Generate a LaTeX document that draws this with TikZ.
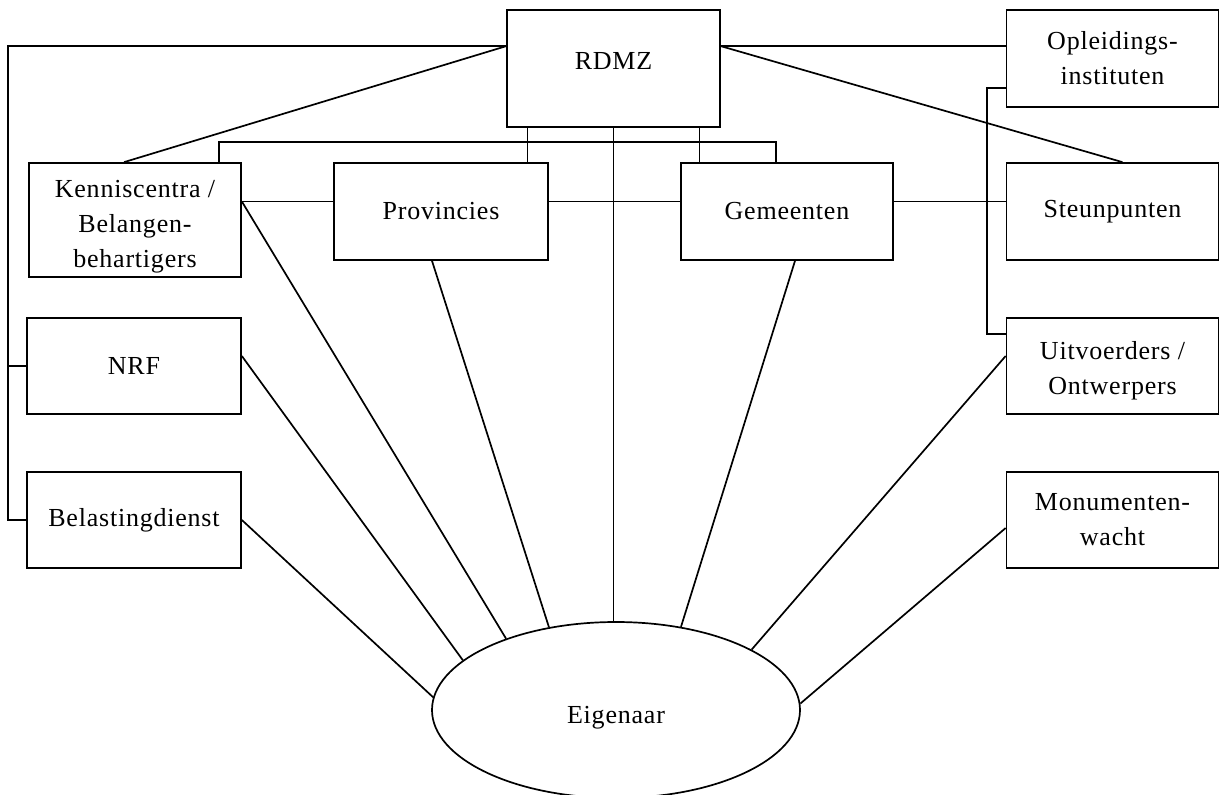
\documentclass[tikz,border=0pt]{standalone}
\usepackage{fontspec}
\setmainfont[LetterSpace=3]{Liberation Serif}
\usetikzlibrary{shapes.geometric}
\begin{document}
\begin{tikzpicture}[
  x=1pt,y=-1pt,
  line width=1.7pt,
  box/.style={draw,rectangle,minimum width=212pt,minimum height=97pt,align=center,inner sep=0pt},
  every node/.style={font=\fontsize{26}{35}\selectfont}
]
\useasboundingbox (0,0) rectangle (1227,795);
% --- Nodes ---
\node[box,minimum width=213pt,minimum height=117pt,text depth=16pt] (rdmz) at (613.5,68.5) {RDMZ};
\node[box] (opl) at (1112.5,58.5) {Opleidings-\\instituten};

% middle row
\node[box,minimum height=114pt] (kenn) at (135,220) {\rule{0pt}{31pt}Kenniscentra /\\Belangen-\\behartigers};
\node[box,minimum width=214pt] (prov) at (441,211.5) {Provincies};
\node[box] (gem)   at (787,211.5) {Gemeenten};
\node[box] (steun) at (1112.5,211.5) {Steunpunten};

% left column
\node[box,minimum width=214pt,minimum height=96pt] (nrf) at (134,366) {NRF};
\node[box,minimum width=214pt,minimum height=96pt] (bel) at (134,520) {Belastingdienst};

% right column
\node[box,minimum height=96pt] (uitv) at (1112.5,366) {\rule{0pt}{27pt}Uitvoerders /\\Ontwerpers};
\node[box,minimum height=96pt] (mon)  at (1112.5,520) {Monumenten-\\wacht};

% owner
\node[draw,ellipse,minimum width=368pt,minimum height=176pt,inner sep=0pt,text height=32pt] (eig) at (616,710) {Eigenaar};

\coordinate (lbus) at ([xshift=-18pt]bel.west);

% --- Lines from RDMZ ---
\draw ([yshift=-37pt]rdmz.north west) -| (lbus) -- (bel.west);
\draw (nrf.west) -- (nrf.west -| lbus);
\draw ([yshift=-37pt]rdmz.north west) -- ([xshift=-11pt]kenn.north);
\draw ([yshift=-37pt]rdmz.north east) -- ([yshift=-37pt]opl.north west);
\draw ([yshift=-37pt]rdmz.north east) -- ([xshift=10pt]steun.north);
\draw ([xshift=-86pt]rdmz.south) -- ([xshift=-86pt]rdmz.south |- prov.north);
\draw ([xshift=86pt]rdmz.south) -- ([xshift=86pt]rdmz.south |- gem.north);
\draw (rdmz.south) -- (rdmz.south |- eig.north);

% --- Middle row ---
\draw ([xshift=84pt]kenn.north) -- ++(0,-20) -| ([xshift=-11pt]gem.north);
\draw ([yshift=10pt]prov.west) -- ([yshift=10pt]prov.west -| kenn.east);
\draw ([yshift=10pt]prov.east) -- ([yshift=10pt]gem.west);
\draw ([yshift=10pt]gem.east) -- ([yshift=10pt]steun.west);

% Opleidingsinstituten -> Uitvoerders
\draw ([yshift=20pt]opl.south west) -- ++(-19,0) |- ([yshift=-17pt]uitv.north west);

% --- Lines to Eigenaar ---
\draw ([yshift=10pt]prov.west -| kenn.east) -- (eig.147.3);
\draw ([xshift=-9pt]prov.south) -- (eig.129.7);
\draw ([yshift=10pt]nrf.east) -- (eig.162.3);
\draw (bel.east) -- (eig.176);
\draw ([xshift=8pt]gem.south) -- (eig.52.4);
\draw ([yshift=10pt]uitv.west) -- (eig.24.2);
\draw ([yshift=-8pt]mon.west) -- (eig.2.9);

\end{tikzpicture}
\end{document}
